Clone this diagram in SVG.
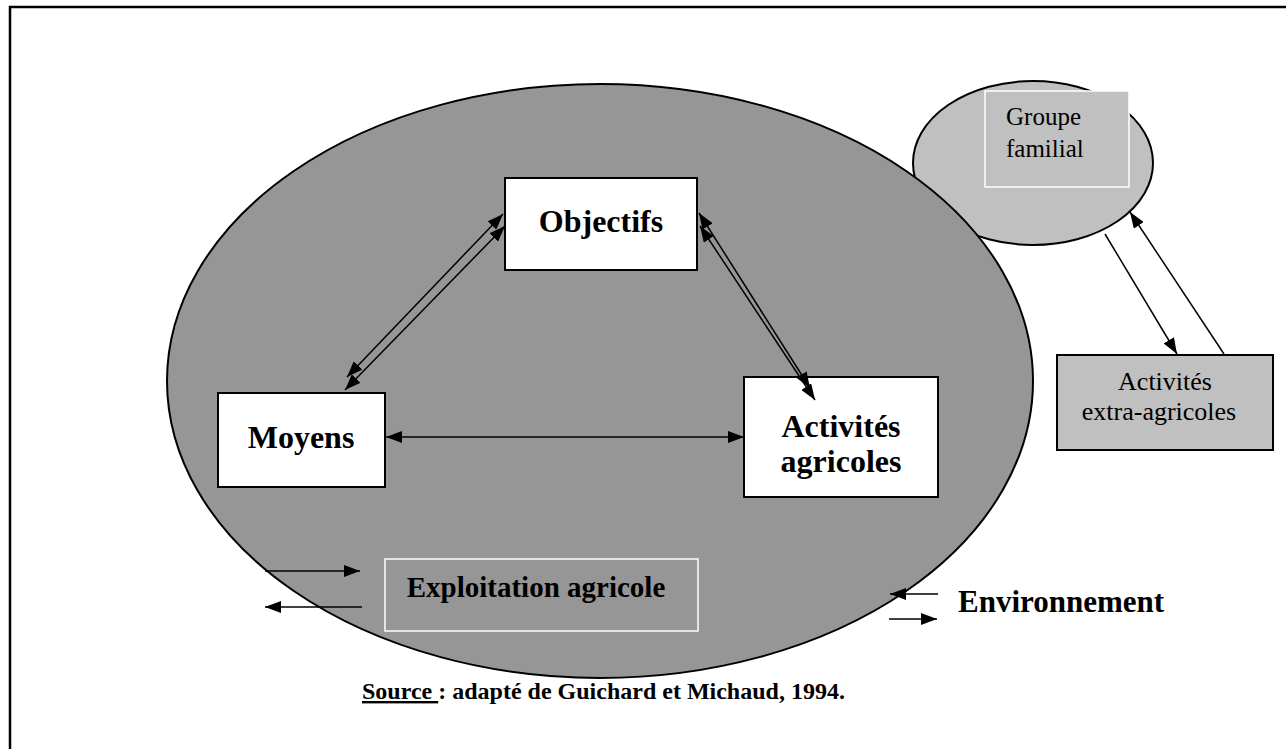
<svg xmlns="http://www.w3.org/2000/svg" width="1286" height="749" viewBox="0 0 1286 749">
<defs>
<marker id="ah" viewBox="0 0 16 12" refX="16" refY="6" markerWidth="16" markerHeight="12" markerUnits="userSpaceOnUse" orient="auto-start-reverse">
<path d="M0,0 L16,6 L0,12 z" fill="#000"/>
</marker>
<style>
.box{fill:#fff;stroke:#000;stroke-width:2}
.bold{font-family:"Liberation Serif","Times New Roman",serif;font-weight:bold;fill:#000}
.reg{font-family:"Liberation Serif","Times New Roman",serif;fill:#000}
.ln{stroke:#000;stroke-width:1.5;fill:none}
</style>
</defs>
<rect width="1286" height="749" fill="#fff"/>
<rect x="10" y="7" width="1300" height="770" fill="none" stroke="#000" stroke-width="2.5"/>

<g id="groupe-familial">
<ellipse cx="1033" cy="163" rx="120" ry="82" fill="#c0c0c0" stroke="#000" stroke-width="2"/>
<rect x="985" y="91" width="144" height="96" fill="#c0c0c0" stroke="#fff" stroke-width="1.5"/>
<text class="reg" x="1006" y="125" font-size="25">Groupe</text>
<text class="reg" x="1006" y="157" font-size="25">familial</text>
</g>

<g id="exploitation">
<ellipse cx="600" cy="381" rx="433" ry="297" fill="#969696" stroke="#000" stroke-width="2"/>
<rect x="385" y="559" width="313" height="72" fill="none" stroke="#fff" stroke-width="1.5"/>
<text class="bold" x="536" y="597" font-size="29" text-anchor="middle">Exploitation agricole</text>
</g>

<g id="objectifs">
<rect class="box" x="505" y="178" width="192" height="92"/>
<text class="bold" x="601" y="232" font-size="32" text-anchor="middle">Objectifs</text>
</g>

<g id="moyens">
<rect class="box" x="218" y="393" width="167" height="94"/>
<text class="bold" x="301" y="448" font-size="32" text-anchor="middle">Moyens</text>
</g>

<g id="activites-agricoles">
<rect class="box" x="744" y="377" width="194" height="120"/>
<text class="bold" x="841" y="437" font-size="32" text-anchor="middle">Activités</text>
<text class="bold" x="841" y="472" font-size="32" text-anchor="middle">agricoles</text>
</g>

<g id="activites-extra">
<rect x="1057" y="355" width="216" height="95" fill="#c0c0c0" stroke="#000" stroke-width="2"/>
<text class="reg" x="1165" y="390" font-size="26" text-anchor="middle">Activités</text>
<text class="reg" x="1159" y="420" font-size="26" text-anchor="middle">extra-agricoles</text>
</g>

<g id="environnement">
<text class="bold" x="958" y="612" font-size="31">Environnement</text>
</g>

<g id="connectors">
<line class="ln" x1="347" y1="377" x2="503" y2="214" marker-start="url(#ah)" marker-end="url(#ah)"/>
<line class="ln" x1="345" y1="390" x2="505" y2="226" marker-start="url(#ah)" marker-end="url(#ah)"/>
<line class="ln" x1="699" y1="213" x2="810" y2="388" marker-start="url(#ah)" marker-end="url(#ah)"/>
<line class="ln" x1="700" y1="226" x2="815" y2="400" marker-start="url(#ah)" marker-end="url(#ah)"/>
<line class="ln" x1="386" y1="437" x2="744" y2="437" stroke-width="2" marker-start="url(#ah)" marker-end="url(#ah)"/>
<line class="ln" x1="1105" y1="234" x2="1177" y2="354" marker-end="url(#ah)"/>
<line class="ln" x1="1224" y1="354" x2="1130" y2="212" marker-end="url(#ah)"/>
<line class="ln" x1="265" y1="571" x2="360" y2="571" stroke-width="2" marker-end="url(#ah)"/>
<line class="ln" x1="362" y1="607" x2="265" y2="607" stroke-width="2" marker-end="url(#ah)"/>
<line class="ln" x1="938" y1="594" x2="890" y2="594" stroke-width="2" marker-end="url(#ah)"/>
<line class="ln" x1="889" y1="619" x2="937" y2="619" stroke-width="2" marker-end="url(#ah)"/>
</g>

<g id="source">
<text class="bold" x="362" y="699" font-size="24"><tspan text-decoration="underline">Source </tspan>: adapté de Guichard et Michaud, 1994.</text>
</g>
</svg>
